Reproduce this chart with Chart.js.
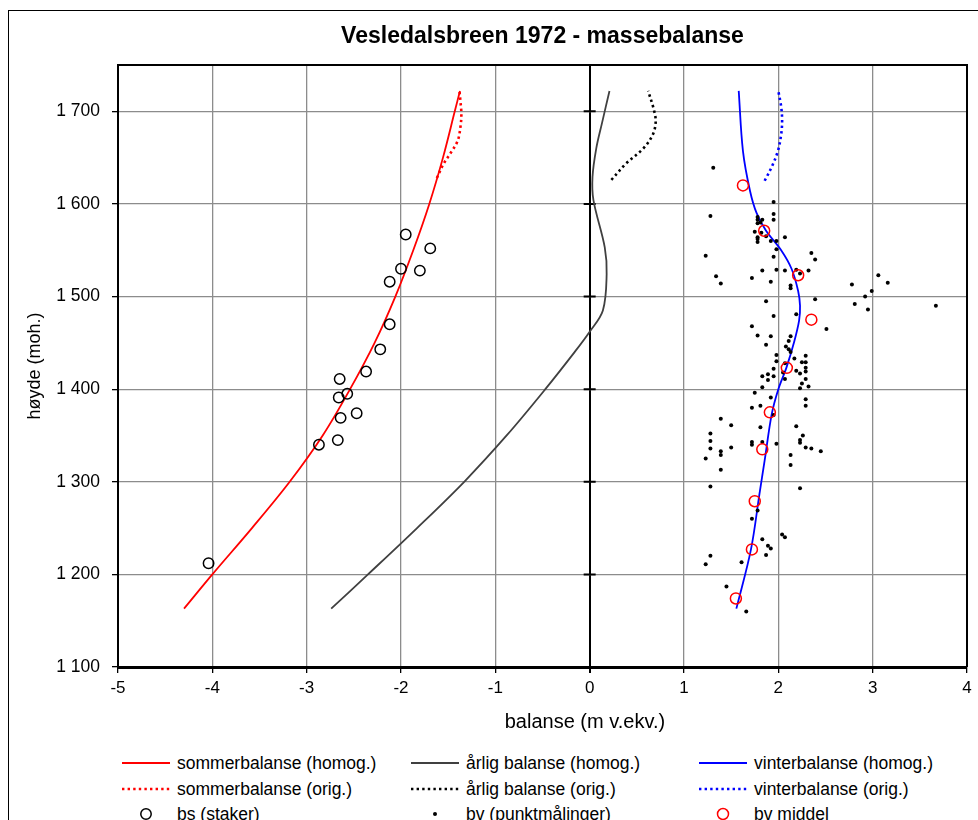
<!DOCTYPE html>
<html>
<head>
<meta charset="utf-8">
<title>Vesledalsbreen 1972 - massebalanse</title>
<script src="https://cdn.jsdelivr.net/npm/chart.js@4.4.1/dist/chart.umd.min.js"></script>
<style>
  body { margin: 0; width: 978px; height: 820px; overflow: hidden; background: #fff;
         font-family: "Liberation Sans", Arial, sans-serif; position: relative; }
  #frame { position: absolute; left: 8px; top: 10px; width: 1000px; height: 840px;
           border: 1px solid #000; box-sizing: border-box; }
  #chartBox { position: absolute; left: 0; top: 0; width: 978px; height: 745px; }
  .legend-item { position: absolute; height: 20px; }
  .legend-item span { position: absolute; left: 55px; top: 0; line-height: 20px;
                      font-size: 17.5px; color: #000; white-space: nowrap; }
  .legend-sample { position: absolute; left: 0; top: 0; width: 48px; height: 20px; }
</style>
</head>
<body>
<div id="frame"></div>
<div id="chartBox"><canvas id="massChart"></canvas></div>
<div id="legend"></div>
<script>
// sommerbalanse (homog. / orig.)
const sommerHomogY = [1163, 1200, 1250, 1300, 1350, 1400, 1450, 1500, 1550, 1600, 1650, 1700, 1722];
const sommerHomogX = [-4.30, -4.00, -3.58, -3.18, -2.83, -2.54, -2.28, -2.06, -1.87, -1.70, -1.555, -1.43, -1.375];
const sommerOrigY = [1628, 1643, 1654, 1668, 1683, 1697, 1711, 1722];
const sommerOrigX = [-1.62, -1.55, -1.48, -1.40, -1.37, -1.36, -1.37, -1.38];

// årlig balanse (homog. / orig.)
const aarligHomogY = [1163, 1200, 1250, 1300, 1350, 1400, 1440, 1462, 1485, 1524, 1553, 1604, 1629, 1660, 1687, 1722];
const aarligHomogX = [-2.74, -2.35, -1.83, -1.33, -0.88, -0.47, -0.16, 0.00, 0.14, 0.18, 0.16, 0.04, 0.03, 0.07, 0.13, 0.21];
const aarligOrigY = [1626, 1644, 1660, 1675, 1689, 1702, 1722];
const aarligOrigX = [0.23, 0.39, 0.57, 0.67, 0.70, 0.68, 0.62];

// vinterbalanse (homog. / orig.)
const vinterHomogY = [1163, 1227, 1287, 1323, 1373, 1400, 1423, 1450, 1474, 1490, 1506, 1530, 1550, 1571, 1590, 1614, 1657, 1722];
const vinterHomogX = [1.555, 1.71, 1.80, 1.855, 1.93, 2.00, 2.085, 2.165, 2.22, 2.23, 2.21, 2.14, 2.03, 1.87, 1.77, 1.70, 1.625, 1.58];
const vinterOrigY = [1625, 1640, 1657, 1675, 1690, 1705, 1722];
const vinterOrigX = [1.855, 1.93, 1.995, 2.03, 2.04, 2.03, 2.00];

// bs (staker)
const bsX = [-1.95, -1.69, -2.00, -1.80, -2.12, -2.12, -2.22, -2.37, -2.65, -2.57, -2.66, -2.47, -2.64, -2.67, -2.87, -4.04];
const bsY = [1567, 1552, 1530, 1528, 1516, 1470, 1443, 1419, 1411, 1395, 1391, 1374, 1369, 1345, 1340, 1212];

// bv middel
const bvMiddelX = [1.625, 1.85, 2.21, 2.35, 2.09, 1.91, 1.83, 1.75, 1.72, 1.55];
const bvMiddelY = [1620, 1571, 1523, 1475, 1423, 1375, 1335, 1279, 1227, 1174];

// bv (punktmålinger)
const bvPunktX = [1.31, 1.95, 1.28, 1.95, 1.95, 1.78, 1.78, 1.81, 1.83, 1.78,
  1.75, 1.82, 1.87, 1.78, 1.78, 1.78, 1.92, 1.98, 2.07, 1.98,
  1.23, 1.95, 2.35, 2.39, 1.83, 1.98, 2.07, 2.19, 2.23, 2.32,
  1.34, 1.39, 1.72, 1.92, 2.13, 2.13, 2.78, 3.06, 3.16, 2.99,
  2.92, 2.81, 2.95, 3.67, 2.39, 1.87, 2.19, 1.95, 2.51, 1.72,
  1.78, 1.92, 2.13, 2.11, 1.87, 2.08, 2.11, 2.13, 1.98, 1.98,
  2.17, 2.29, 2.25, 2.29, 2.29, 2.29, 2.19, 2.23, 2.07, 2.05,
  1.95, 1.83, 1.89, 1.95, 1.89, 2.07, 2.29, 2.25, 2.32, 2.23,
  1.83, 1.75, 1.92, 2.29, 2.29, 1.72, 1.81, 1.95, 1.39, 1.50,
  1.81, 2.19, 1.28, 2.26, 1.28, 1.72, 1.72, 1.83, 2.23, 2.23,
  1.98, 1.28, 1.50, 2.29, 2.35, 2.45, 1.23, 1.39, 1.39, 2.13,
  2.13, 1.39, 1.28, 2.23, 1.78, 1.72, 1.83, 2.04, 2.07, 1.89,
  1.92, 1.87, 1.28, 1.23, 1.61, 1.45, 1.66];
const bvPunktY = [1639, 1602, 1587, 1589, 1583, 1586, 1583, 1580, 1583, 1579,
  1570, 1569, 1565, 1564, 1562, 1559, 1560, 1560, 1564, 1551,
  1544, 1543, 1547, 1540, 1528, 1529, 1528, 1529, 1525, 1528,
  1522, 1514, 1520, 1516, 1512, 1509, 1513, 1523, 1515, 1506,
  1500, 1492, 1486, 1490, 1497, 1495, 1481, 1479, 1465, 1468,
  1458, 1457, 1457, 1452, 1448, 1446, 1443, 1440, 1437, 1430,
  1433, 1436, 1429, 1429, 1423, 1419, 1420, 1417, 1428, 1418,
  1422, 1414, 1416, 1414, 1410, 1411, 1411, 1406, 1403, 1401,
  1402, 1396, 1391, 1389, 1382, 1380, 1382, 1372, 1368, 1361,
  1359, 1360, 1352, 1350, 1344, 1343, 1340, 1343, 1345, 1342,
  1341, 1336, 1337, 1337, 1336, 1333, 1325, 1333, 1329, 1329,
  1318, 1313, 1295, 1293, 1269, 1260, 1238, 1243, 1240, 1231,
  1228, 1221, 1220, 1211, 1213, 1187, 1160];

// axis ranges / ticks
const xMin = -5, xMax = 4, xStep = 1;
const yMin = 1100, yMax = 1750, yStep = 100;

const FONT = '"Liberation Sans", Arial, sans-serif';
Chart.defaults.font.family = FONT;
Chart.defaults.color = '#000';

function toPoints(xs, ys) {
  return xs.map((x, i) => ({ x: x, y: ys[i] }));
}

function lineSet(label, xs, ys, color, dotted) {
  return {
    label: label,
    data: toPoints(xs, ys),
    showLine: true,
    borderColor: color,
    borderWidth: dotted ? 2.6 : 1.8,
    borderDash: dotted ? [2.4, 3.2] : [],
    borderCapStyle: 'butt',
    pointRadius: 0,
    tension: 0.35,
    fill: false,
    order: 3
  };
}

function markerSet(label, xs, ys, opts) {
  return Object.assign({
    label: label,
    data: toPoints(xs, ys),
    showLine: false,
    pointStyle: 'circle',
    pointHoverRadius: 0
  }, opts);
}

const datasets = [
  lineSet('sommerbalanse (homog.)', sommerHomogX, sommerHomogY, '#ff0000', false),
  lineSet('sommerbalanse (orig.)', sommerOrigX, sommerOrigY, '#ff0000', true),
  lineSet('årlig balanse (homog.)', aarligHomogX, aarligHomogY, '#404040', false),
  lineSet('årlig balanse (orig.)', aarligOrigX, aarligOrigY, '#000000', true),
  lineSet('vinterbalanse (homog.)', vinterHomogX, vinterHomogY, '#0000ff', false),
  lineSet('vinterbalanse (orig.)', vinterOrigX, vinterOrigY, '#0000ff', true),
  markerSet('bs (staker)', bsX, bsY, {
    pointRadius: 5.2, borderColor: '#000', borderWidth: 1.5,
    backgroundColor: 'rgba(0,0,0,0)', order: 2
  }),
  markerSet('bv (punktmålinger)', bvPunktX, bvPunktY, {
    pointRadius: 2, borderWidth: 0, backgroundColor: '#000', order: 2
  }),
  markerSet('bv middel', bvMiddelX, bvMiddelY, {
    pointRadius: 5.5, borderColor: '#ff0000', borderWidth: 1.5,
    backgroundColor: 'rgba(0,0,0,0)', order: 1
  })
];

// frame round the plot, tick marks on the zero axis, and the x title
const plotFrame = {
  id: 'plotFrame',
  beforeDatasetsDraw(chart) {
    const { ctx, scales: { x, y } } = chart;
    const x0 = x.getPixelForValue(0);
    ctx.save();
    ctx.strokeStyle = '#000';
    ctx.lineWidth = 2;
    ctx.beginPath();
    y.ticks.forEach(t => {
      const py = y.getPixelForValue(t.value);
      ctx.moveTo(x0 - 6, py);
      ctx.lineTo(x0 + 6, py);
    });
    ctx.stroke();
    ctx.restore();
  },
  afterDraw(chart) {
    const { ctx, chartArea: a } = chart;
    ctx.save();
    ctx.strokeStyle = '#000';
    ctx.lineWidth = 2;
    ctx.beginPath();
    ctx.moveTo(a.left, a.top);
    ctx.lineTo(a.right, a.top);
    ctx.lineTo(a.right, a.bottom);
    ctx.stroke();
    ctx.fillStyle = '#000';
    ctx.font = '20px ' + FONT;
    ctx.textAlign = 'center';
    ctx.textBaseline = 'middle';
    ctx.fillText('balanse (m v.ekv.)', a.left + a.width * 0.55, a.bottom + 55);
    ctx.restore();
  }
};

const spaced = v => String(v).replace(/\B(?=(\d{3})+(?!\d))/g, ' ');

new Chart(document.getElementById('massChart'), {
  type: 'scatter',
  data: { datasets: datasets },
  plugins: [plotFrame],
  options: {
    responsive: true,
    maintainAspectRatio: false,
    animation: false,
    events: [],
    layout: { padding: { left: 18, right: 11, top: 0, bottom: 0 } },
    plugins: {
      legend: { display: false },
      tooltip: { enabled: false },
      title: {
        display: true,
        fullSize: false,
        text: 'Vesledalsbreen 1972 - massebalanse',
        font: { size: 23, weight: 'bold' },
        color: '#000',
        padding: { top: 23, bottom: 14.4 }
      }
    },
    scales: {
      x: {
        type: 'linear',
        min: xMin,
        max: xMax,
        ticks: { stepSize: xStep, font: { size: 17 }, padding: 5, color: '#000' },
        grid: {
          color: c => c.tick && c.tick.value === 0 ? '#000' : '#8c8c8c',
          lineWidth: c => c.tick && c.tick.value === 0 ? 2 : 1.3,
          tickColor: '#000',
          tickLength: 6
        },
        border: { display: true, color: '#000', width: 3 },
        afterFit: s => { s.height = 78; }
      },
      y: {
        type: 'linear',
        min: yMin,
        max: yMax,
        ticks: {
          stepSize: yStep,
          includeBounds: false,
          font: { size: 17.5 },
          padding: 12,
          color: '#000',
          callback: v => spaced(v)
        },
        grid: { color: '#8c8c8c', lineWidth: 1.3, tickColor: '#000', tickLength: 6 },
        border: { display: true, color: '#000', width: 2 },
        title: {
          display: true,
          text: 'høyde (moh.)',
          font: { size: 18 },
          color: '#000',
          padding: { top: 6, bottom: 0 }
        },
        afterFit: s => { s.width = 100; }
      }
    }
  }
});

// legend laid out in three columns like the original
const legendCols = [122, 411, 699];
const legendRows = [763, 789, 814];
const legendSpec = [
  { ds: 0, col: 0, row: 0 }, { ds: 1, col: 0, row: 1 }, { ds: 6, col: 0, row: 2 },
  { ds: 2, col: 1, row: 0 }, { ds: 3, col: 1, row: 1 }, { ds: 7, col: 1, row: 2 },
  { ds: 4, col: 2, row: 0 }, { ds: 5, col: 2, row: 1 }, { ds: 8, col: 2, row: 2 }
];

const legendEl = document.getElementById('legend');
legendSpec.forEach(spec => {
  const ds = datasets[spec.ds];
  const item = document.createElement('div');
  item.className = 'legend-item';
  item.style.left = legendCols[spec.col] + 'px';
  item.style.top = (legendRows[spec.row] - 10) + 'px';

  const sample = document.createElement('canvas');
  sample.className = 'legend-sample';
  sample.width = 48;
  sample.height = 20;
  const c = sample.getContext('2d');
  if (ds.showLine) {
    c.strokeStyle = ds.borderColor;
    c.lineWidth = ds.borderWidth;
    c.setLineDash(ds.borderDash);
    c.beginPath();
    c.moveTo(0, 10);
    c.lineTo(48, 10);
    c.stroke();
  } else {
    c.beginPath();
    c.arc(24, 10, ds.pointRadius, 0, Math.PI * 2);
    if (ds.borderWidth > 0) {
      c.strokeStyle = ds.borderColor;
      c.lineWidth = ds.borderWidth;
      c.stroke();
    } else {
      c.fillStyle = ds.backgroundColor;
      c.fill();
    }
  }
  item.appendChild(sample);

  const text = document.createElement('span');
  text.textContent = ds.label;
  item.appendChild(text);
  legendEl.appendChild(item);
});
</script>
</body>
</html>
